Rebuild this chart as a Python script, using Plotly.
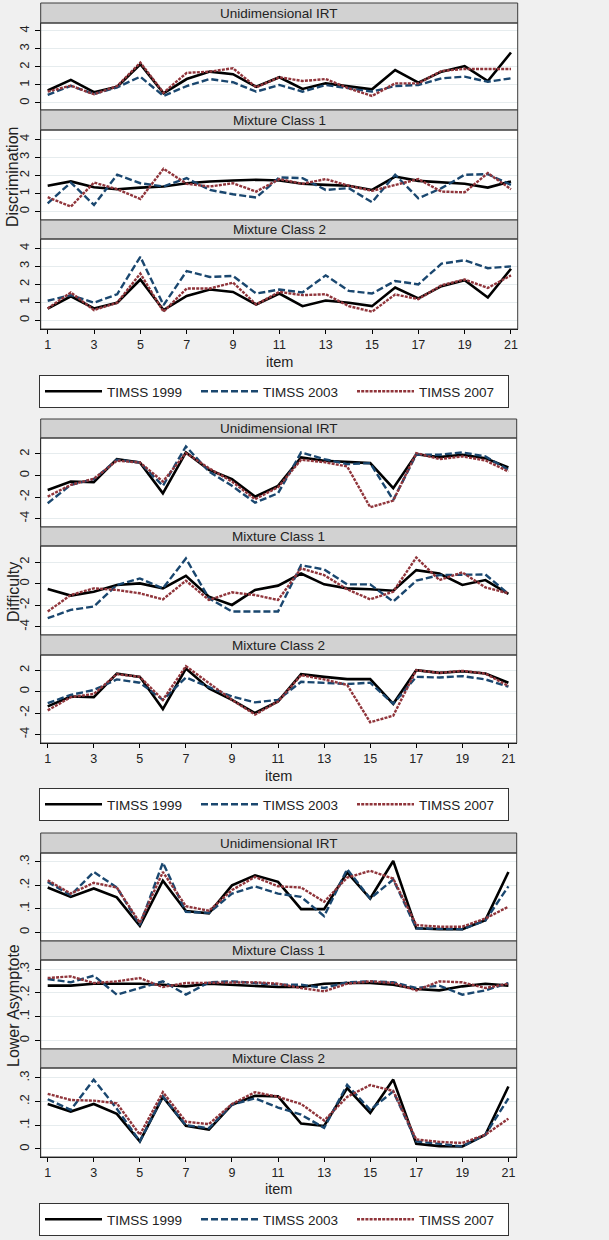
import plotly.graph_objects as go

W, H = 609, 1240
items = list(range(1, 22))
x_tick_vals = list(range(1, 22, 2))
series_names = ["TIMSS 1999", "TIMSS 2003", "TIMSS 2007"]
panel_titles = ["Unidimensional IRT", "Mixture Class 1", "Mixture Class 2"]
group_titles = ["Discrimination", "Difficulty", "Lower Asymptote"]

# ---------------- Discrimination ----------------
disc_uni_1999 = [0.69, 1.28, 0.6, 0.9, 2.15, 0.54, 1.33, 1.74, 1.6, 0.9, 1.43, 0.78, 1.09, 0.94, 0.76, 1.83, 1.13, 1.74, 2.05, 1.22, 2.8]
disc_uni_2003 = [0.45, 0.95, 0.5, 0.87, 1.46, 0.39, 0.94, 1.33, 1.15, 0.63, 1.0, 0.63, 1.0, 0.81, 0.63, 0.94, 1.0, 1.37, 1.46, 1.18, 1.37]
disc_uni_2007 = [0.63, 0.96, 0.48, 0.94, 2.24, 0.57, 1.67, 1.74, 1.93, 0.87, 1.43, 1.22, 1.33, 0.81, 0.39, 1.09, 1.09, 1.78, 1.89, 1.87, 1.89]

disc_mc1_1999 = [1.43, 1.67, 1.35, 1.24, 1.33, 1.39, 1.57, 1.67, 1.72, 1.76, 1.72, 1.54, 1.48, 1.43, 1.2, 1.94, 1.7, 1.61, 1.54, 1.33, 1.67]
disc_mc1_2003 = [0.46, 1.61, 0.37, 2.04, 1.57, 1.39, 1.85, 1.2, 0.96, 0.78, 1.89, 1.85, 1.2, 1.3, 0.52, 2.04, 0.74, 1.3, 2.04, 2.07, 1.48]
disc_mc1_2007 = [0.8, 0.28, 1.61, 1.24, 0.7, 2.37, 1.54, 1.39, 1.57, 1.11, 1.8, 1.54, 1.8, 1.43, 1.15, 1.48, 1.8, 1.11, 1.07, 2.13, 1.24]

disc_mc2_1999 = [0.65, 1.34, 0.66, 0.98, 2.27, 0.57, 1.36, 1.71, 1.58, 0.88, 1.49, 0.79, 1.1, 0.98, 0.79, 1.82, 1.22, 1.9, 2.23, 1.27, 2.87]
disc_mc2_2003 = [1.09, 1.4, 0.98, 1.45, 3.53, 0.85, 2.74, 2.41, 2.47, 1.49, 1.71, 1.55, 2.5, 1.64, 1.49, 2.19, 2.0, 3.15, 3.34, 2.9, 3.0]
disc_mc2_2007 = [0.66, 1.55, 0.57, 0.98, 2.6, 0.48, 1.77, 1.77, 2.1, 0.88, 1.58, 1.4, 1.45, 0.79, 0.48, 1.44, 1.18, 1.95, 2.27, 1.8, 2.5]

# ---------------- Difficulty ----------------
diff_uni_1999 = [-1.34, -0.56, -0.62, 1.52, 1.21, -1.65, 2.14, 0.53, -0.34, -1.96, -0.96, 1.68, 1.37, 1.24, 1.15, -1.18, 1.97, 1.71, 1.93, 1.61, 0.75]
diff_uni_2003 = [-2.58, -0.87, -0.34, 1.46, 1.21, -0.96, 2.7, 0.37, -0.96, -2.52, -1.65, 2.14, 1.52, 1.06, 1.15, -2.27, 1.93, 1.93, 2.14, 1.77, 0.53]
diff_uni_2007 = [-1.96, -0.87, -0.31, 1.37, 1.21, -0.56, 2.08, 0.68, -0.56, -2.2, -1.09, 1.46, 1.24, 0.84, -2.95, -2.33, 2.08, 1.52, 1.77, 1.4, 0.37]

diff_mc1_1999 = [-0.49, -1.1, -0.74, -0.12, 0.03, -0.43, 0.74, -1.2, -1.97, -0.58, -0.18, 0.95, -0.06, -0.43, -0.52, -0.65, 1.26, 0.95, -0.12, 0.34, -0.95]
diff_mc1_2003 = [-3.2, -2.43, -2.12, -0.12, 0.49, -0.43, 2.34, -1.35, -2.58, -2.58, -2.58, 1.72, 1.32, -0.06, -0.06, -1.66, 0.28, 0.8, 0.8, 0.86, -0.95]
diff_mc1_2007 = [-2.58, -1.05, -0.43, -0.58, -0.89, -1.45, 0.28, -1.51, -0.8, -1.05, -1.51, 1.42, 0.8, -0.52, -1.45, -0.74, 2.43, 0.34, 1.05, -0.34, -0.89]

diff_mc2_1999 = [-1.38, -0.46, -0.52, 1.69, 1.38, -1.63, 2.15, 0.3, -0.77, -2.0, -0.92, 1.63, 1.38, 1.17, 1.17, -1.14, 2.0, 1.75, 1.9, 1.69, 0.83]
diff_mc2_2003 = [-1.08, -0.31, 0.15, 1.14, 0.83, -0.77, 1.32, 0.46, -0.46, -1.0, -0.77, 0.92, 0.83, 0.71, 0.83, -1.14, 1.38, 1.32, 1.45, 1.14, 0.46]
diff_mc2_2007 = [-1.75, -0.52, -0.22, 1.63, 1.38, -0.77, 2.37, 0.77, -0.77, -2.15, -0.92, 1.54, 1.14, 0.62, -2.86, -2.25, 2.0, 1.75, 1.94, 1.69, 0.52]

# ---------------- Lower Asymptote ----------------
lasy_uni_1999 = [0.191, 0.151, 0.187, 0.149, 0.027, 0.22, 0.091, 0.081, 0.2, 0.243, 0.215, 0.099, 0.099, 0.255, 0.144, 0.304, 0.017, 0.013, 0.013, 0.052, 0.257]
lasy_uni_2003 = [0.215, 0.158, 0.257, 0.191, 0.031, 0.297, 0.087, 0.083, 0.165, 0.196, 0.165, 0.151, 0.069, 0.269, 0.144, 0.225, 0.017, 0.014, 0.013, 0.05, 0.196]
lasy_uni_2007 = [0.222, 0.165, 0.211, 0.191, 0.041, 0.257, 0.111, 0.092, 0.18, 0.236, 0.196, 0.191, 0.13, 0.233, 0.262, 0.229, 0.031, 0.024, 0.024, 0.059, 0.109]

lasy_mc1_1999 = [0.231, 0.231, 0.239, 0.239, 0.239, 0.235, 0.228, 0.239, 0.235, 0.231, 0.225, 0.225, 0.239, 0.242, 0.242, 0.235, 0.217, 0.211, 0.228, 0.239, 0.231]
lasy_mc1_2003 = [0.259, 0.245, 0.273, 0.193, 0.221, 0.249, 0.193, 0.245, 0.249, 0.242, 0.235, 0.235, 0.221, 0.245, 0.249, 0.245, 0.221, 0.231, 0.193, 0.211, 0.242]
lasy_mc1_2007 = [0.263, 0.27, 0.242, 0.249, 0.263, 0.225, 0.242, 0.242, 0.242, 0.245, 0.239, 0.221, 0.207, 0.239, 0.249, 0.242, 0.211, 0.249, 0.245, 0.221, 0.239]

lasy_mc2_1999 = [0.19, 0.158, 0.19, 0.148, 0.032, 0.22, 0.098, 0.082, 0.187, 0.225, 0.222, 0.107, 0.097, 0.257, 0.152, 0.293, 0.022, 0.012, 0.011, 0.06, 0.264]
lasy_mc2_2003 = [0.21, 0.165, 0.293, 0.17, 0.032, 0.222, 0.1, 0.088, 0.187, 0.214, 0.175, 0.145, 0.089, 0.271, 0.165, 0.243, 0.032, 0.021, 0.011, 0.06, 0.214]
lasy_mc2_2007 = [0.233, 0.207, 0.204, 0.193, 0.06, 0.24, 0.115, 0.105, 0.19, 0.24, 0.22, 0.19, 0.12, 0.22, 0.27, 0.245, 0.04, 0.03, 0.025, 0.06, 0.128]

disc_ticks = [0, 1, 2, 3, 4]
disc_tick_text = ["0", "1", "2", "3", "4"]
diff_ticks = [-4, -2, 0, 2]
diff_tick_text = ["-4", "-2", "0", "2"]
lasy_ticks = [0, 0.1, 0.2, 0.3]
lasy_tick_text = ["0", ".1", ".2", ".3"]

# ---------------- styling / layout geometry (pixels) ----------------
colors = ["#000000", "#1A476F", "#90353B"]
dashes = ["solid", "7px,3px", "3px,1.2px"]
widths = [2.6, 2.4, 2.4]
BG = "#F0F0F0"
HEAD = "#D2D2D2"
FRAME = "#3C3C3C"
GRID = "#E6ECEE"
FONT = "Liberation Sans, Arial, sans-serif"

groups = [
    dict(data=[[disc_uni_1999, disc_uni_2003, disc_uni_2007],
               [disc_mc1_1999, disc_mc1_2003, disc_mc1_2007],
               [disc_mc2_1999, disc_mc2_2003, disc_mc2_2007]],
         ticks=disc_ticks, ticktext=disc_tick_text,
         heads=[(3, 23), (110, 130), (220, 239)],
         plots=[(23, 110), (130, 220), (239, 329)],
         yranges=[[-0.39, 4.44], [-0.46, 4.51], [-0.48, 4.52]],
         xpix=(40.7, 517.7), xrange=[0.698, 21.29],
         item_y=362, legend_y=375, title_y=177),
    dict(data=[[diff_uni_1999, diff_uni_2003, diff_uni_2007],
               [diff_mc1_1999, diff_mc1_2003, diff_mc1_2007],
               [diff_mc2_1999, diff_mc2_2003, diff_mc2_2007]],
         ticks=diff_ticks, ticktext=diff_tick_text,
         heads=[(419, 438), (527, 546), (635, 655)],
         plots=[(438, 527), (546, 635), (655, 743)],
         yranges=[[-4.78, 3.48], [-4.76, 3.5], [-4.8, 3.42]],
         xpix=(40.7, 516.7), xrange=[0.696, 21.36],
         item_y=776, legend_y=788, title_y=592),
    dict(data=[[lasy_uni_1999, lasy_uni_2003, lasy_uni_2007],
               [lasy_mc1_1999, lasy_mc1_2003, lasy_mc1_2007],
               [lasy_mc2_1999, lasy_mc2_2003, lasy_mc2_2007]],
         ticks=lasy_ticks, ticktext=lasy_tick_text,
         heads=[(833, 853), (941, 960), (1049, 1068)],
         plots=[(853, 941), (960, 1049), (1068, 1157)],
         yranges=[[-0.037, 0.338], [-0.036, 0.339], [-0.034, 0.342]],
         xpix=(40.7, 516.7), xrange=[0.696, 21.36],
         item_y=1189, legend_y=1203, title_y=1006),
]


def px_x(v):
    return v / W


def px_y(v):
    return 1 - v / H


fig = go.Figure()
layout = {}
shapes = []
annotations = []
legend_keys = ["legend", "legend2", "legend3"]

ax = 0
for gi, g in enumerate(groups):
    x0, x1 = px_x(g["xpix"][0]), px_x(g["xpix"][1])
    for pi in range(3):
        ax += 1
        xname = "x" if ax == 1 else f"x{ax}"
        yname = "y" if ax == 1 else f"y{ax}"
        xkey = "xaxis" if ax == 1 else f"xaxis{ax}"
        ykey = "yaxis" if ax == 1 else f"yaxis{ax}"
        top, bot = g["plots"][pi]
        is_bottom = pi == 2
        layout[xkey] = dict(
            domain=[x0, x1], range=g["xrange"], anchor=yname,
            tickvals=x_tick_vals, ticktext=[str(v) for v in x_tick_vals],
            showticklabels=is_bottom, ticks="outside" if is_bottom else "",
            ticklen=4, tickwidth=1, tickcolor="#000",
            tickfont=dict(family=FONT, size=12.5, color="#222"),
            showgrid=False, zeroline=False,
            showline=is_bottom, linecolor="#000", linewidth=1.3,
            fixedrange=True,
        )
        layout[ykey] = dict(
            domain=[px_y(bot), px_y(top)], range=g["yranges"][pi], anchor=xname,
            tickvals=g["ticks"], ticktext=g["ticktext"], tickangle=-90,
            ticks="outside", ticklen=5, tickwidth=1, tickcolor="#000",
            tickfont=dict(family=FONT, size=13, color="#222"),
            showgrid=True, gridcolor=GRID, gridwidth=1, zeroline=False,
            showline=True, linecolor="#000", linewidth=1.3,
            fixedrange=True,
        )
        for si in range(3):
            fig.add_trace(go.Scatter(
                x=items, y=g["data"][pi][si], mode="lines",
                name=series_names[si], xaxis=xname, yaxis=yname,
                line=dict(color=colors[si], width=widths[si], dash=dashes[si]),
                showlegend=(pi == 0), legend=legend_keys[gi],
                hoverinfo="x+y+name",
            ))
        # header strip
        htop, hbot = g["heads"][pi]
        shapes.append(dict(type="rect", xref="paper", yref="paper",
                           x0=x0, x1=x1, y0=px_y(hbot), y1=px_y(htop),
                           fillcolor=HEAD, line=dict(color=FRAME, width=1), layer="above"))
        annotations.append(dict(xref="paper", yref="paper", x=(x0 + x1) / 2,
                                y=px_y((htop + hbot) / 2), text=panel_titles[pi],
                                showarrow=False, xanchor="center", yanchor="middle",
                                font=dict(family=FONT, size=13.5, color="#222")))
        # plot frame
        shapes.append(dict(type="rect", xref="paper", yref="paper",
                           x0=x0, x1=x1, y0=px_y(bot), y1=px_y(top),
                           fillcolor="rgba(0,0,0,0)", line=dict(color=FRAME, width=1), layer="above"))
    # item label
    annotations.append(dict(xref="paper", yref="paper", x=(x0 + x1) / 2, y=px_y(g["item_y"]),
                            text="item", showarrow=False, xanchor="center", yanchor="middle",
                            font=dict(family=FONT, size=14.5, color="#222")))
    # y title
    annotations.append(dict(xref="paper", yref="paper", x=px_x(13), y=px_y(g["title_y"]),
                            text=group_titles[gi], showarrow=False, textangle=-90,
                            xanchor="center", yanchor="middle",
                            font=dict(family=FONT, size=16, color="#222")))
    layout[legend_keys[gi]] = dict(
        x=px_x(39), y=px_y(g["legend_y"]), xanchor="left", yanchor="top",
        orientation="h", bgcolor="#FFFFFF", bordercolor="#333", borderwidth=1,
        font=dict(family=FONT, size=13.5, color="#222"),
        itemwidth=57, entrywidth=84, entrywidthmode="pixels", tracegroupgap=0,
    )

fig.update_layout(
    width=W, height=H, margin=dict(l=0, r=0, t=0, b=0),
    paper_bgcolor=BG, plot_bgcolor="#FFFFFF",
    shapes=shapes, annotations=annotations, **layout,
)

fig.write_html("out.html", config={"displayModeBar": False},
               post_script="document.body.style.margin='0px';")
